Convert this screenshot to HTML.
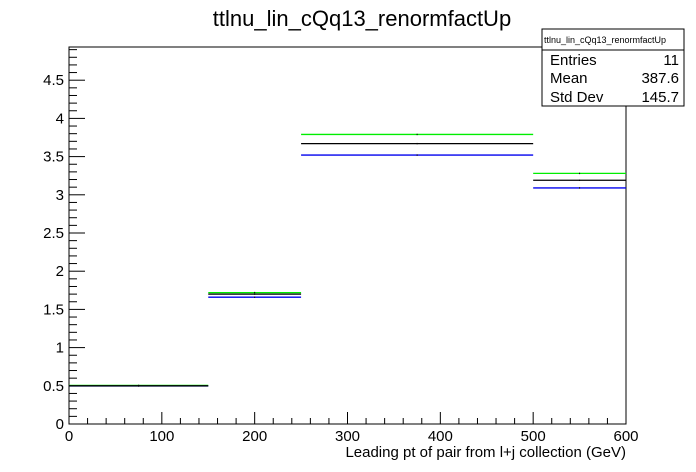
<!DOCTYPE html>
<html><head><meta charset="utf-8"><style>
body{margin:0;background:#fff;}
svg{display:block;font-family:"Liberation Sans",sans-serif;}
</style></head><body>
<svg id="c" width="696" height="472" xmlns="http://www.w3.org/2000/svg">
<rect width="696" height="472" fill="#fff"/>
<text x="362" y="26" font-size="22" text-anchor="middle">ttlnu_lin_cQq13_renormfactUp</text>
<rect x="69" y="47" width="557" height="377" fill="none" stroke="#000" stroke-width="1"/>
<g id="axes"></g>
<g id="marks"></g>
<text x="626" y="457" font-size="15" text-anchor="end">Leading pt of pair from l+j collection (GeV)</text>
<g>
<rect x="542" y="29" width="142" height="77" fill="#fff" stroke="#000"/>
<line x1="542" y1="50" x2="684" y2="50" stroke="#000"/>
<text x="544" y="43" font-size="9">ttlnu_lin_cQq13_renormfactUp</text>
<text x="550" y="65" font-size="15">Entries</text><text x="679" y="65" font-size="15" text-anchor="end">11</text>
<text x="550" y="83" font-size="15">Mean</text><text x="679" y="83" font-size="15" text-anchor="end">387.6</text>
<text x="550" y="102" font-size="15">Std Dev</text><text x="679" y="102" font-size="15" text-anchor="end">145.7</text>
</g>
</svg>
<script>
const binEdges=[0,150,250,500,600];
const greenVals=[0.505,1.72,3.79,3.28];
const blackVals=[0.50,1.70,3.67,3.19];
const blueVals=[0.497,1.66,3.52,3.09];
const xTicks=[0,100,200,300,400,500,600];
const yTicks=[0,0.5,1,1.5,2,2.5,3,3.5,4,4.5];
const NS="http://www.w3.org/2000/svg";
const X0=69,X1=626,Y0=424,YT=47,XMAX=600,YMAX=(424-47)/76.4;
const sx=v=>X0+(X1-X0)*v/XMAX;
const sy=v=>Y0-(Y0-YT)*v/YMAX;
const axes=document.getElementById('axes'),marks=document.getElementById('marks');
function ln(p,x1,y1,x2,y2,c,w){const l=document.createElementNS(NS,'line');l.setAttribute('x1',x1);l.setAttribute('y1',y1);l.setAttribute('x2',x2);l.setAttribute('y2',y2);l.setAttribute('stroke',c);l.setAttribute('stroke-width',w||1);p.appendChild(l);return l;}
function tx(p,x,y,s,a){const t=document.createElementNS(NS,'text');t.setAttribute('x',x);t.setAttribute('y',y);t.setAttribute('font-size',15);t.setAttribute('text-anchor',a);t.textContent=s;p.appendChild(t);return t;}
for(let v=0;v<=XMAX+0.01;v+=20){const maj=Math.abs(v%100)<0.01;const l=ln(axes,sx(v),Y0,sx(v),Y0-(maj?12:6),'#000');

}
xTicks.forEach(v=>{const t=tx(axes,sx(v),Y0+17,String(v),'middle');

});
for(let i=0;i*0.1<=YMAX;i++){const v=i*0.1;const maj=i%5===0;const l=ln(axes,X0,sy(v),X0+(maj?16:8),sy(v),'#000');

}
yTicks.forEach(v=>{const t=tx(axes,X0-5,sy(v)+5,String(v),'end');

});
function series(vals,col,name){vals.forEach((v,i)=>{const y=sy(v);const l=ln(marks,sx(binEdges[i]),y,sx(binEdges[i+1]),y,col,1.3);


ln(marks,(sx(binEdges[i])+sx(binEdges[i+1]))/2,y-0.7,(sx(binEdges[i])+sx(binEdges[i+1]))/2,y+0.7,'#000',1);});}
series(blueVals,'#0000ee','blue-series');
series(greenVals,'#00ee00','green-series');
series(blackVals,'#000','black-series');
</script>
</body></html>
